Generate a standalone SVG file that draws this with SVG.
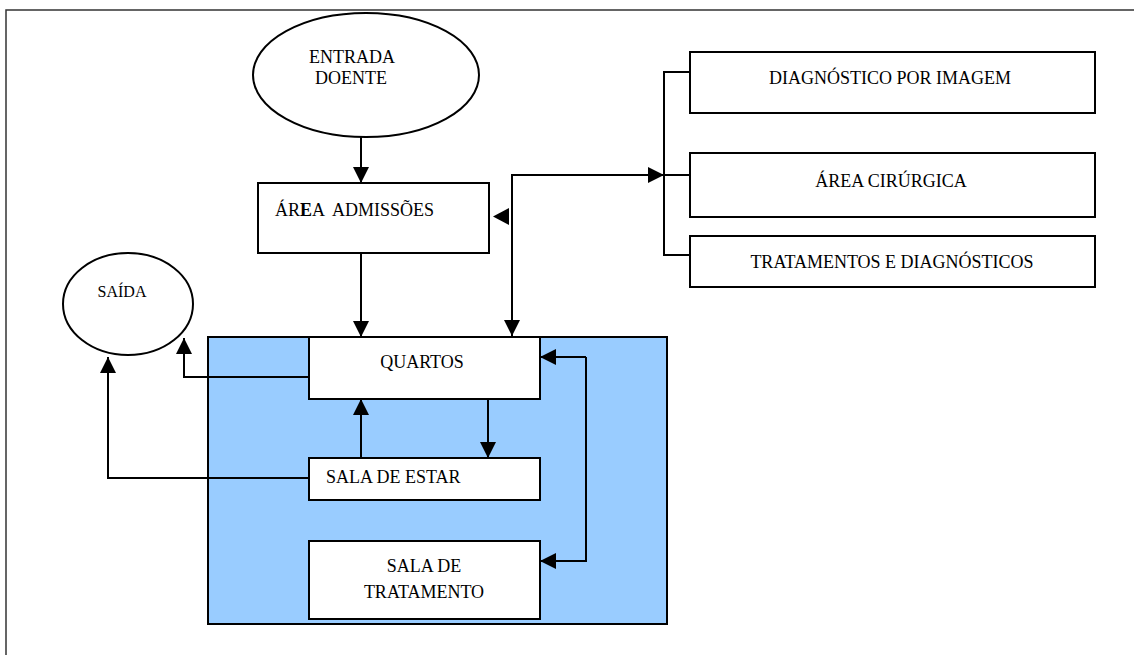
<svg xmlns="http://www.w3.org/2000/svg" width="1134" height="655" viewBox="0 0 1134 655">
<defs>
<style>
.box{fill:#fff;stroke:#000;stroke-width:2}
.ell{fill:#fff;stroke:#000;stroke-width:2}
.t{font-family:"Liberation Serif","Times New Roman",serif;font-size:18px;fill:#000}
.c{text-anchor:middle}
.ln{fill:none;stroke:#000;stroke-width:2}
</style>
<marker id="ah" viewBox="0 0 16 16" refX="16" refY="8" markerWidth="16" markerHeight="16" markerUnits="userSpaceOnUse" orient="auto-start-reverse">
<path d="M0,0 L16,8 L0,16 Z" fill="#000"/>
</marker>
</defs>
<rect x="0" y="0" width="1134" height="655" fill="#fff"/>
<path d="M6,655 L6,10 L1134,10" fill="none" stroke="#333" stroke-width="1.5"/>

<g id="container">
<rect x="208" y="337" width="459" height="287" fill="#99CCFF" stroke="#000" stroke-width="2"/>
</g>

<g id="entrada">
<ellipse class="ell" cx="366" cy="75" rx="113" ry="62"/>
<text class="t c" x="352" y="63">ENTRADA</text>
<text class="t c" x="351" y="84">DOENTE</text>
</g>

<g id="admissoes">
<rect class="box" x="258" y="183" width="231" height="70"/>
<text class="t" x="275" y="216" xml:space="preserve">ÁR<tspan font-weight="bold">E</tspan>A  ADMISSÕES</text>
</g>

<g id="diagnostico-imagem">
<rect class="box" x="690" y="52" width="405" height="61"/>
<text class="t c" x="890" y="84">DIAGNÓSTICO POR IMAGEM</text>
</g>

<g id="area-cirurgica">
<rect class="box" x="690" y="153" width="405" height="64"/>
<text class="t c" x="891" y="187">ÁREA CIRÚRGICA</text>
</g>

<g id="tratamentos-diagnosticos">
<rect class="box" x="690" y="236" width="405" height="51"/>
<text class="t c" x="892" y="268">TRATAMENTOS E DIAGNÓSTICOS</text>
</g>

<g id="saida">
<ellipse class="ell" cx="128" cy="304" rx="65" ry="51"/>
<text class="t c" x="122" y="297" style="font-size:16px">SAÍDA</text>
</g>

<g id="quartos">
<rect class="box" x="309" y="337" width="231" height="62"/>
<text class="t c" x="422" y="368">QUARTOS</text>
</g>

<g id="sala-estar">
<rect class="box" x="309" y="458" width="231" height="42"/>
<text class="t" x="326" y="483">SALA DE ESTAR</text>
</g>

<g id="sala-tratamento">
<rect class="box" x="309" y="541" width="231" height="78"/>
<text class="t c" x="424" y="572">SALA DE</text>
<text class="t c" x="424" y="598">TRATAMENTO</text>
</g>

<g id="connectors">
<path class="ln" d="M361,137 L361,183" marker-end="url(#ah)"/>
<path class="ln" d="M361,253 L361,337" marker-end="url(#ah)"/>
<path class="ln" d="M512,336 L512,175 L664,175" marker-start="url(#ah)" marker-end="url(#ah)"/>
<path d="M509,208 L493,216.5 L509,225 Z" fill="#000"/>
<path class="ln" d="M690,72 L664,72 L664,255 L690,255 M664,175 L690,175"/>
<path class="ln" d="M488,399 L488,458" marker-end="url(#ah)"/>
<path class="ln" d="M361,458 L361,399" marker-end="url(#ah)"/>
<path class="ln" d="M586,357 L540,357" marker-end="url(#ah)"/>
<path class="ln" d="M586,357 L586,561 L540,561" marker-end="url(#ah)"/>
<path class="ln" d="M309,377 L184,377 L184,338" marker-end="url(#ah)"/>
<path class="ln" d="M309,478 L108,478 L108,357" marker-end="url(#ah)"/>
</g>
</svg>
